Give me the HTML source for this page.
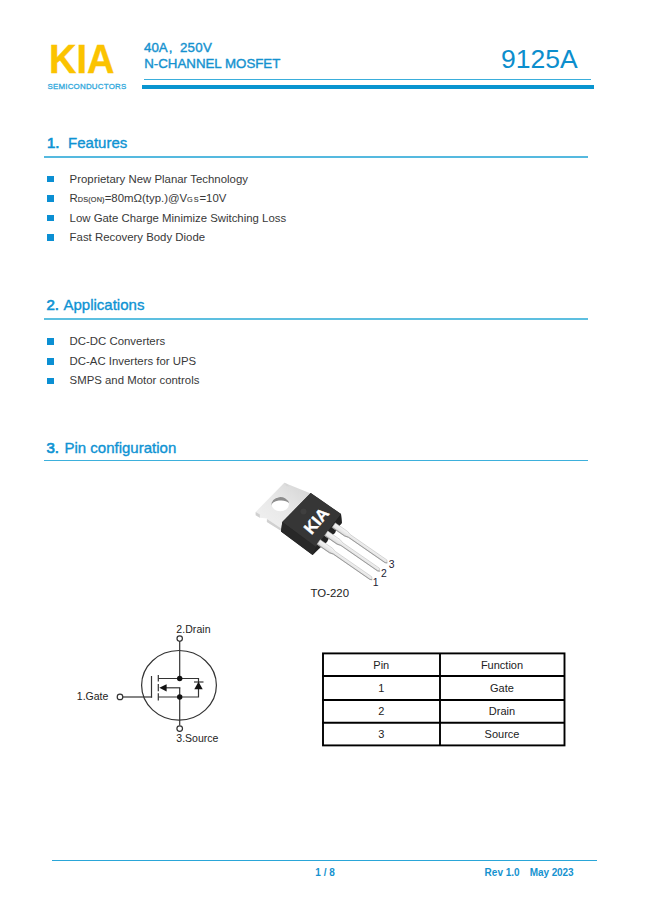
<!DOCTYPE html>
<html><head><meta charset="utf-8">
<style>
html,body{margin:0;padding:0;background:#fff;}
body{width:649px;height:917px;position:relative;overflow:hidden;font-family:"Liberation Sans",sans-serif;}
.a{position:absolute;white-space:nowrap;line-height:1;}
.ln{position:absolute;}
.blue{color:#1592cf;}
.h{font-size:15px;color:#0e93d3;-webkit-text-stroke:0.35px #0e93d3;}
.h b{font-weight:normal;-webkit-text-stroke:0.7px #0e93d3;}
.t{font-size:11.4px;color:#383838;}
.bul{position:absolute;width:6.6px;height:6.6px;background:#0b8fd3;}
</style></head><body>
<!-- header -->
<div class="a" id="kia" style="left:48.8px;top:38.8px;font-size:40px;font-weight:bold;color:#fbc300;transform:scaleX(0.95);transform-origin:0 0;-webkit-text-stroke:0.4px #fbc300;">KIA</div>
<div class="a" id="semi" style="left:47.4px;top:83.2px;font-size:7.9px;color:#2fa8dc;letter-spacing:0.24px;-webkit-text-stroke:0.3px #2fa8dc;">SEMICONDUCTORS</div>
<div class="a blue" id="l40" style="left:144px;top:41px;font-size:13.3px;-webkit-text-stroke:0.4px #1592cf;">40A<span style="margin-left:1px">,</span><span style="margin-left:7.6px;letter-spacing:0.25px">250V</span></div>
<div class="a blue" id="nch" style="left:144.2px;top:57.2px;font-size:13.3px;-webkit-text-stroke:0.4px #1592cf;">N-CHANNEL MOSFET</div>
<div class="a blue" id="pn" style="left:501px;top:45.6px;font-size:26.5px;color:#0c8ecd;">9125A</div>
<div class="ln" style="left:144px;top:79px;width:447px;height:1px;background:#3aaedb;"></div>
<div class="ln" style="left:142px;top:85px;width:452px;height:4px;background:#0995d0;"></div>

<!-- section 1 -->
<div class="a h" id="h1" style="left:47px;top:134.8px;"><b>1.</b><span style="margin-left:8.6px">Features</span></div>
<div class="ln" style="left:44px;top:156px;width:544px;height:1.5px;background:#55b9df;"></div>
<div class="bul" style="left:47.4px;top:175.6px;"></div>
<div class="bul" style="left:47.4px;top:195.2px;"></div>
<div class="bul" style="left:47.4px;top:214.8px;"></div>
<div class="bul" style="left:47.4px;top:234.4px;"></div>
<div class="a t" style="left:69.6px;top:173.8px;">Proprietary New Planar Technology</div>
<div class="a t" style="left:69.6px;top:193.3px;">R<span style="font-size:7.3px;-webkit-text-stroke:0.15px #383838;letter-spacing:0.15px">DS(ON)</span>=80mΩ(typ.)@V<span style="font-size:7.3px;-webkit-text-stroke:0.1px #383838;letter-spacing:0.9px">GS</span>=10V</div>
<div class="a t" style="left:69.6px;top:212.8px;">Low Gate Charge Minimize Switching Loss</div>
<div class="a t" style="left:69.6px;top:232.3px;">Fast Recovery Body Diode</div>

<!-- section 2 -->
<div class="a h" id="h2" style="left:46.4px;top:297.2px;"><b>2.</b><span style="margin-left:4.6px">Applications</span></div>
<div class="ln" style="left:44px;top:318px;width:544px;height:1.5px;background:#5dbfe0;"></div>
<div class="bul" style="left:47.4px;top:338.4px;"></div>
<div class="bul" style="left:47.4px;top:358px;"></div>
<div class="bul" style="left:47.4px;top:377.7px;"></div>
<div class="a t" style="left:69.6px;top:336.3px;">DC-DC Converters</div>
<div class="a t" style="left:69.6px;top:355.8px;">DC-AC Inverters for UPS</div>
<div class="a t" style="left:69.6px;top:375.3px;">SMPS and Motor controls</div>

<!-- section 3 -->
<div class="a h" id="h3" style="left:46.4px;top:439.6px;"><b>3.</b><span style="margin-left:5.6px">Pin configuration</span></div>
<div class="ln" style="left:44px;top:459.5px;width:544px;height:1.5px;background:#3db0dc;"></div>

<!-- TO-220 package -->
<svg class="ln" style="left:0;top:0" width="649" height="917" viewBox="0 0 649 917">
<defs>
<linearGradient id="tabg" x1="0" y1="1" x2="1" y2="0"><stop offset="0" stop-color="#f2f2f2"/><stop offset="0.5" stop-color="#e8e8e8"/><stop offset="1" stop-color="#d2d2d2"/></linearGradient>
<linearGradient id="legg" x1="0" y1="0" x2="0" y2="1"><stop offset="0" stop-color="#f6f6f6"/><stop offset="0.7" stop-color="#e4e4e4"/><stop offset="1" stop-color="#c8c8c8"/></linearGradient>
</defs>
<polygon points="284.3,482.7 312,494 300,520 282,531 266.9,522.1 267.2,518.4 259.8,517.8 255.7,515.3 255.7,511.9" fill="url(#tabg)"/>
<polygon points="255.7,512 259.8,514.6 259.8,517.8 255.7,515.3" fill="#d0d0d0"/>
<polygon points="266.9,519 282,529 282,531.5 266.9,522.1" fill="#d0d0d0"/>
<polygon points="284.3,482.7 287,484 289.5,486.5 286.5,486" fill="#d6d6d6"/>
<ellipse cx="280.3" cy="504.1" rx="8.7" ry="7.2" fill="#fff"/>
<path d="M271.7,505.5 A8.7,7.2 0 0 1 289,503.2 A9.2,5.2 0 0 0 271.7,505.5 Z" fill="#8c8c8c"/>
<polygon points="310.7,493 341,514 341.8,523 312.6,555 281,531.5 282.3,522" fill="#262626"/>
<polygon points="310.7,493 341,514 316,547 282.3,522" fill="#363636"/>
<polygon points="282.3,522 316,547 312.6,555 281,531.5" fill="#282828"/>
<polygon points="341,514 341.8,523 337,528.5 335,533 329,538 327,542 321,547 312.6,555 316,547" fill="#222"/>
<g transform="translate(318.6,542) rotate(34.7)"><polygon points="0,-2.8 15,-2.8 19,-1.7 63.5,-1.7 65.5,0.6 63.5,1.7 19,1.7 15,2.8 0,2.8" fill="url(#legg)" stroke="#b8b8b8" stroke-width="0.5"/><polyline points="0,2.6 15,2.6 19,1.5 63.5,1.5 65.5,0.6" fill="none" stroke="#8a8a8a" stroke-width="0.7"/></g>
<g transform="translate(326.2,533.4) rotate(34.7)"><polygon points="0,-2.8 15,-2.8 19,-1.7 63.5,-1.7 65.5,0.6 63.5,1.7 19,1.7 15,2.8 0,2.8" fill="url(#legg)" stroke="#b8b8b8" stroke-width="0.5"/><polyline points="0,2.6 15,2.6 19,1.5 63.5,1.5 65.5,0.6" fill="none" stroke="#8a8a8a" stroke-width="0.7"/></g>
<g transform="translate(333.7,525.2) rotate(34.7)"><polygon points="0,-2.8 15,-2.8 19,-1.7 63.5,-1.7 65.5,0.6 63.5,1.7 19,1.7 15,2.8 0,2.8" fill="url(#legg)" stroke="#b8b8b8" stroke-width="0.5"/><polyline points="0,2.6 15,2.6 19,1.5 63.5,1.5 65.5,0.6" fill="none" stroke="#8a8a8a" stroke-width="0.7"/></g>
<circle cx="303.5" cy="511.5" r="3" fill="#3f3f3f"/>
<text x="0" y="5.9" transform="translate(316.2,520.6) rotate(-50)" font-family="Liberation Sans" font-weight="bold" font-size="16.5" fill="#fff" stroke="#fff" stroke-width="0.35" text-anchor="middle">KIA</text>
<text x="375.6" y="585.6" font-family="Liberation Sans" font-size="10.4" fill="#223" text-anchor="middle">1</text>
<text x="383.8" y="577.4" font-family="Liberation Sans" font-size="10.4" fill="#223" text-anchor="middle">2</text>
<text x="391.6" y="568.2" font-family="Liberation Sans" font-size="10.4" fill="#223" text-anchor="middle">3</text>
</svg>
<div class="a" style="left:310.6px;top:588px;font-size:11.4px;color:#222;">TO-220</div>

<!-- MOSFET symbol -->
<svg class="ln" style="left:0;top:0" width="649" height="917" viewBox="0 0 649 917" fill="none" stroke="#333" stroke-width="1.2">
<ellipse cx="179" cy="685.3" rx="37.4" ry="34.8"/>
<line x1="179.7" y1="641" x2="179.7" y2="678.5"/>
<line x1="179.7" y1="687.8" x2="179.7" y2="725.5"/>
<circle cx="179.7" cy="638.6" r="2.7" fill="#fff"/>
<circle cx="179.7" cy="728.6" r="2.8" fill="#fff"/>
<circle cx="120" cy="696.9" r="2.8" fill="#fff"/>
<line x1="122.8" y1="697" x2="152.1" y2="697"/>
<line x1="151.5" y1="676" x2="151.5" y2="697.6"/>
<line x1="158.3" y1="675" x2="158.3" y2="681.5"/>
<line x1="158.3" y1="684" x2="158.3" y2="691.2"/>
<line x1="158.3" y1="693.2" x2="158.3" y2="700.5"/>
<polyline points="158.3,678.5 198.5,678.5 198.5,697 158.3,697"/>
<line x1="166" y1="687.8" x2="180.3" y2="687.8"/>
<line x1="194" y1="682" x2="203.5" y2="682"/>
<polygon points="159.3,687.8 166.6,684.2 166.6,691.4" fill="#111" stroke="none"/>
<polygon points="198.5,681.8 194.3,689.3 202.7,689.3" fill="#111" stroke="none"/>
<circle cx="179.7" cy="678.5" r="2.7" fill="#111" stroke="none"/>
<circle cx="179.7" cy="697" r="2.7" fill="#111" stroke="none"/>
<g stroke="none" fill="#222" font-family="Liberation Sans" font-size="10.5">
<text x="176.2" y="632.8" letter-spacing="0.1">2.Drain</text>
<text x="76.8" y="699.7">1.Gate</text>
<text x="176.3" y="742.1">3.Source</text>
</g>
</svg>
<!-- table -->
<svg class="ln" style="left:0;top:0" width="649" height="917" viewBox="0 0 649 917">
<g stroke="#000" stroke-width="1.9" fill="none">
<rect x="323" y="653.4" width="241.5" height="92"/>
<line x1="440" y1="653" x2="440" y2="746"/>
<line x1="322" y1="676" x2="565" y2="676"/>
<line x1="322" y1="700" x2="565" y2="700"/>
<line x1="322" y1="722.8" x2="565" y2="722.8"/>
</g>
<g font-family="Liberation Sans" font-size="11" fill="#222" text-anchor="middle">
<text x="381.3" y="668.8">Pin</text><text x="502" y="668.8">Function</text>
<text x="381.3" y="691.6">1</text><text x="502" y="691.6">Gate</text>
<text x="381.3" y="715.4">2</text><text x="502" y="715.4">Drain</text>
<text x="381.3" y="738.4">3</text><text x="502" y="738.4">Source</text>
</g></svg>

<!-- footer -->
<div class="ln" style="left:52px;top:859.5px;width:544.5px;height:1.2px;background:#2aa6d8;"></div>
<div class="a blue" style="left:315.3px;top:867.8px;font-size:10px;font-weight:bold;">1 / 8</div>
<div class="a blue" style="left:484.6px;top:867.8px;letter-spacing:0px;font-size:10px;font-weight:bold;">Rev 1.0</div>
<div class="a blue" style="left:529.8px;top:867.8px;letter-spacing:-0.1px;font-size:10px;font-weight:bold;">May 2023</div>
</body></html>
